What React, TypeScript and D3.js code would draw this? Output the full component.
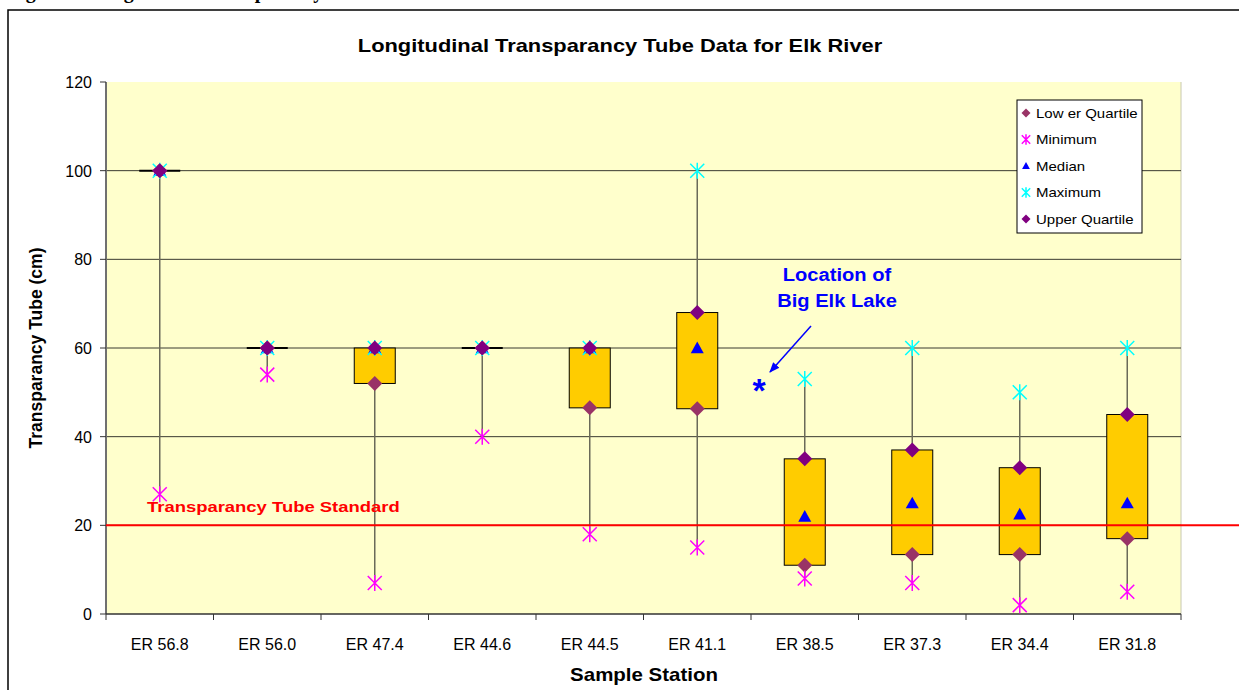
import React from 'react';
import * as d3 from 'd3';

// station data
const stations = ['ER 56.8', 'ER 56.0', 'ER 47.4', 'ER 44.6', 'ER 44.5', 'ER 41.1', 'ER 38.5', 'ER 37.3', 'ER 34.4', 'ER 31.8'];
const minimum = [27, 54, 7, 40, 18, 15, 8, 7, 2, 5];
const lowerQuartile = [100, 60, 52, 60, 46.5, 46.3, 11, 13.4, 13.4, 17];
const median = [100, 60, 60, 60, 60, 60, 22, 25, 22.5, 25];
const upperQuartile = [100, 60, 60, 60, 60, 68, 35, 37, 33, 45];
const maximum = [100, 60, 60, 60, 60, 100, 53, 60, 50, 60];
const yTicks = [0, 20, 40, 60, 80, 100, 120];
const standard = 20;

const legendItems = ['Low er Quartile', 'Minimum', 'Median', 'Maximum', 'Upper Quartile'];

const W = 1239;
const H = 690;
const margin = { top: 82, left: 106, right: 58, bottom: 76 };

const diamond = (r: number) => `M0,${-r}L${r},0L0,${r}L${-r},0Z`;
const triangle = (r: number) => `M0,${-r}L${r},${r * 0.8}L${-r},${r * 0.8}Z`;
const asterisk = (r: number) => `M${-r},${-r}L${r},${r}M${-r},${r}L${r},${-r}M0,${-r - 1}L0,${r + 1}`;

const font = 'Arial, "Liberation Sans", sans-serif';

// text that is a little wider than the font (the chart was stretched sideways)
const Wide = ({ x, y, sx = 1, size, bold = false, fill = '#000', anchor = 'start', children }: any) => (
  <text
    transform={`translate(${x},${y}) scale(${sx},1)`}
    textAnchor={anchor}
    fontFamily={font}
    fontWeight={bold ? 'bold' : 'normal'}
    fontSize={size}
    fill={fill}
  >
    {children}
  </text>
);

export default function App() {
  const x = d3.scaleBand().domain(stations).range([margin.left, W - margin.right]);
  const y = d3.scaleLinear().domain([0, 120]).range([H - margin.bottom, margin.top]);
  const boxW = 41;
  const plotR = W - margin.right;
  const y0 = y(0);

  const cx = (i: number) => (x(stations[i]) as number) + x.bandwidth() / 2;

  const marker = (kind: string, px: number, py: number, small = false) => {
    const s = small ? 0.6 : 1;
    if (kind === 'lq') return <path d={diamond(7.5 * s)} transform={`translate(${px},${py})`} fill="#993366" />;
    if (kind === 'uq') return <path d={diamond(7.5 * s)} transform={`translate(${px},${py})`} fill="#800080" />;
    if (kind === 'med') return <path d={triangle(6.5 * s)} transform={`translate(${px},${py})`} fill="#0000ff" />;
    if (kind === 'min') return <path d={asterisk(7 * s)} transform={`translate(${px},${py})`} stroke="#ff00ff" strokeWidth={1.5} fill="none" />;
    return <path d={asterisk(7 * s)} transform={`translate(${px},${py})`} stroke="#00ffff" strokeWidth={1.5} fill="none" />;
  };

  const legendKinds = ['lq', 'min', 'med', 'max', 'uq'];

  return (
    <svg width={W} height={H} style={{ position: 'absolute', left: 0, top: 0, background: '#fff' }}>
      {/* caption of the page above the chart, cut off by the page edge */}
      <text x={8} y={-2} fontFamily='"Liberation Serif", "Times New Roman", serif' fontWeight="bold" fontSize={20}>
        Figure 4. Longitudinal Transparency Tube Data for Elk River
      </text>
      <rect x={8} y={10} width={W} height={H} fill="none" stroke="#000" strokeWidth={1.5} />

      <Wide x={620} y={52} sx={1.25} size={17.5} bold anchor="middle">
        Longitudinal Transparancy Tube Data for Elk River
      </Wide>

      {/* plot area */}
      <rect x={margin.left} y={margin.top} width={plotR - margin.left} height={y0 - margin.top} fill="#ffffcc" />
      <line x1={plotR} x2={plotR} y1={margin.top} y2={y0} stroke="#c8c8b0" strokeWidth={1} />

      {yTicks.filter(t => t > 0 && t < 120).map(t => (
        <line key={t} x1={margin.left} x2={plotR} y1={y(t)} y2={y(t)} stroke="#3a3a30" strokeWidth={1} />
      ))}

      {/* y axis */}
      <line x1={margin.left} x2={margin.left} y1={margin.top} y2={y0} stroke="#707070" strokeWidth={2} />
      {yTicks.map(t => (
        <g key={t}>
          <line x1={margin.left - 6} x2={margin.left} y1={y(t)} y2={y(t)} stroke="#333" />
          <text x={92} y={y(t) + 6} textAnchor="end" fontFamily={font} fontSize={16}>{t}</text>
        </g>
      ))}
      <text transform={`translate(42,${(margin.top + y0) / 2}) rotate(-90)`} textAnchor="middle" fontFamily={font} fontWeight="bold" fontSize={17.5}>
        Transparancy Tube (cm)
      </text>

      {/* x axis */}
      <line x1={margin.left} x2={plotR} y1={y0} y2={y0} stroke="#333" strokeWidth={1.5} />
      {stations.map((s, i) => (
        <g key={s}>
          <line x1={x(s) as number} x2={x(s) as number} y1={y0} y2={y0 + 6} stroke="#333" />
          {i === stations.length - 1 && <line x1={plotR} x2={plotR} y1={y0} y2={y0 + 6} stroke="#333" />}
          <text x={cx(i)} y={650} textAnchor="middle" fontFamily={font} fontSize={16}>{s}</text>
        </g>
      ))}
      <Wide x={644} y={681} sx={1.17} size={17.5} bold anchor="middle">Sample Station</Wide>

      {/* whiskers */}
      {stations.map((s, i) => (
        <line key={s} x1={cx(i)} x2={cx(i)} y1={y(minimum[i])} y2={y(maximum[i])} stroke="#6a6a58" strokeWidth={1.5} />
      ))}

      {/* boxes */}
      {stations.map((s, i) => {
        const top = y(upperQuartile[i]);
        const bot = y(lowerQuartile[i]);
        return bot - top < 0.5 ? (
          <line key={s} x1={cx(i) - boxW / 2} x2={cx(i) + boxW / 2} y1={top} y2={top} stroke="#000" strokeWidth={2} />
        ) : (
          <rect key={s} x={cx(i) - boxW / 2} y={top} width={boxW} height={bot - top} fill="#ffcc00" stroke="#000" strokeWidth={1} />
        );
      })}

      {/* standard line */}
      <line x1={margin.left} x2={W} y1={y(standard)} y2={y(standard)} stroke="#ff0000" strokeWidth={2} />
      <Wide x={147} y={y(standard) - 13} sx={1.23} size={15} bold fill="#ff0000">
        Transparancy Tube Standard
      </Wide>

      {/* markers */}
      {stations.map((s, i) => (
        <g key={s}>
          {marker('lq', cx(i), y(lowerQuartile[i]))}
          {marker('min', cx(i), y(minimum[i]))}
          {marker('med', cx(i), y(median[i]))}
          {marker('max', cx(i), y(maximum[i]))}
          {marker('uq', cx(i), y(upperQuartile[i]))}
        </g>
      ))}

      {/* annotation */}
      <Wide x={837} y={281} sx={1.06} size={19} bold fill="#0000ff" anchor="middle">Location of</Wide>
      <Wide x={837} y={307} sx={1.06} size={19} bold fill="#0000ff" anchor="middle">Big Elk Lake</Wide>
      <defs>
        <marker id="arr" viewBox="0 0 10 10" refX={9} refY={5} markerWidth={7} markerHeight={7} orient="auto">
          <path d="M0,1L10,5L0,9Z" fill="#0000ff" />
        </marker>
      </defs>
      <line x1={811} y1={326} x2={770} y2={372} stroke="#0000ff" strokeWidth={1.5} markerEnd="url(#arr)" />
      <text x={759} y={402} textAnchor="middle" fontFamily={font} fontWeight="bold" fontSize={34} fill="#0000ff">*</text>

      {/* legend */}
      <rect x={1017} y={100} width={125} height={133} fill="#fff" stroke="#000" strokeWidth={1} />
      {legendItems.map((d, i) => (
        <g key={d}>
          {marker(legendKinds[i], 1026, 113 + i * 26.5, true)}
          <Wide x={1036} y={117.5 + i * 26.5} sx={1.2} size={12.5}>{d}</Wide>
        </g>
      ))}
    </svg>
  );
}
